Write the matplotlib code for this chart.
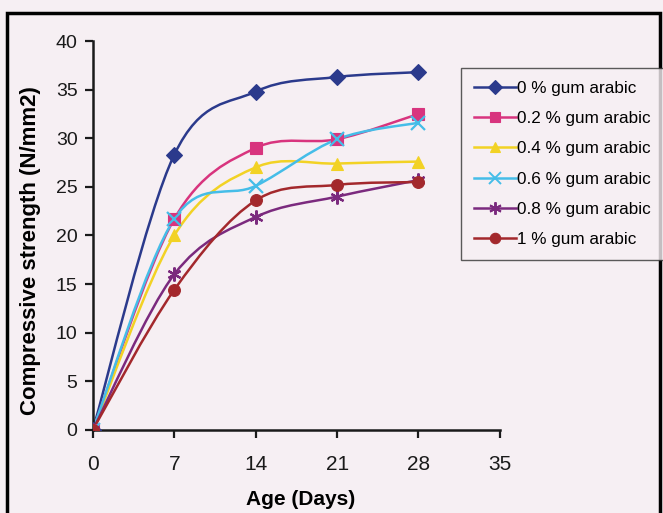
import numpy as np
import matplotlib.pyplot as plt
from matplotlib.path import Path
from matplotlib.patches import PathPatch, Rectangle
from matplotlib.lines import Line2D

plt.rcParams['font.family'] = ['Liberation Sans', 'DejaVu Sans']

# data
days = [0, 7, 14, 21, 28]
labels = ['0 % gum arabic', '0.2 % gum arabic', '0.4 % gum arabic',
          '0.6 % gum arabic', '0.8 % gum arabic', '1 % gum arabic']
s00 = [0, 28.3, 34.8, 36.3, 36.8]
s02 = [0, 21.7, 29.0, 29.9, 32.5]
s04 = [0, 20.0, 27.0, 27.4, 27.6]
s06 = [0, 21.7, 25.1, 29.9, 31.6]
s08 = [0, 16.0, 21.9, 24.0, 25.7]
s10 = [0, 14.4, 23.6, 25.2, 25.5]
series = [s00, s02, s04, s06, s08, s10]

colors = ['#2b3a8c', '#d8347e', '#f2d224', '#45bde8', '#7b2a7e', '#a3282c']
markers = ['D', 's', '^', 'x', (6, 2, 0), 'o']
bg = '#f6eff3'


def smooth_path(x, y, t=1/6):
    # bezier path through the points (like the "smoothed line" option)
    x = np.asarray(x, float)
    y = np.asarray(y, float)
    verts = [(x[0], y[0])]
    codes = [Path.MOVETO]
    n = len(x)
    for i in range(n - 1):
        i0 = max(i - 1, 0)
        i3 = min(i + 2, n - 1)
        c1 = (x[i] + (x[i + 1] - x[i0]) * t, y[i] + (y[i + 1] - y[i0]) * t)
        c2 = (x[i + 1] - (x[i3] - x[i]) * t, y[i + 1] - (y[i3] - y[i]) * t)
        verts += [c1, c2, (x[i + 1], y[i + 1])]
        codes += [Path.CURVE4] * 3
    return Path(verts, codes)


fig = plt.figure(figsize=(6.63, 5.13), dpi=100, facecolor=bg)
ax = fig.add_axes([0.140, 0.162, 0.614, 0.758], facecolor=bg)

handles = []
for vals, c, m, lab in zip(series, colors, markers, labels):
    ax.add_patch(PathPatch(smooth_path(days, vals), fill=False, edgecolor=c, lw=1.8, zorder=2))
    thin = m in ('x', (6, 2, 0))
    ms = 10 if thin else 8.5
    ax.plot(days, vals, linestyle='none', marker=m, color=c, markersize=ms,
            markeredgewidth=1.6 if thin else 0.8,
            markeredgecolor=c, zorder=3)
    handles.append(Line2D([], [], color=c, lw=1.8, marker=m, markersize=ms - 1,
                          markeredgewidth=1.4 if thin else 0.8))

ax.set_xlim(0, 35)
ax.set_ylim(0, 40)
ax.set_xticks(np.arange(0, 36, 7))
ax.set_yticks(np.arange(0, 41, 5))
for s in ['top', 'right']:
    ax.spines[s].set_visible(False)
for s in ['left', 'bottom']:
    ax.spines[s].set_linewidth(1.8)
    ax.spines[s].set_color('#1a1a1a')
ax.tick_params(direction='out', length=6, width=1.6, labelsize=14, pad=5, colors='#1a1a1a')
ax.tick_params(axis='x', pad=12, labelsize=15)
ax.set_xlabel('Age (Days)', fontsize=15, fontweight='bold')
ax.xaxis.set_label_coords(0.51, -0.155)
ax.set_ylabel('Compressive strength (N/mm2)', fontsize=16, fontweight='bold')
ax.yaxis.set_label_coords(-0.128, 0.46)

leg = fig.legend(handles, labels, loc='upper left', bbox_to_anchor=(0.695, 0.868),
                 fontsize=12.3, frameon=True, fancybox=False, handlelength=2.5,
                 handletextpad=0.05, labelspacing=0.9, borderpad=0.75, borderaxespad=0)
leg.get_frame().set_edgecolor('#333333')
leg.get_frame().set_facecolor(bg)
leg.get_frame().set_linewidth(1.0)

# scan frame
fig.add_artist(Rectangle((0.011, -0.01), 0.985, 0.985, transform=fig.transFigure,
                         fill=False, edgecolor='black', lw=2.5))

plt.savefig('out.png', dpi=100, facecolor=bg)
